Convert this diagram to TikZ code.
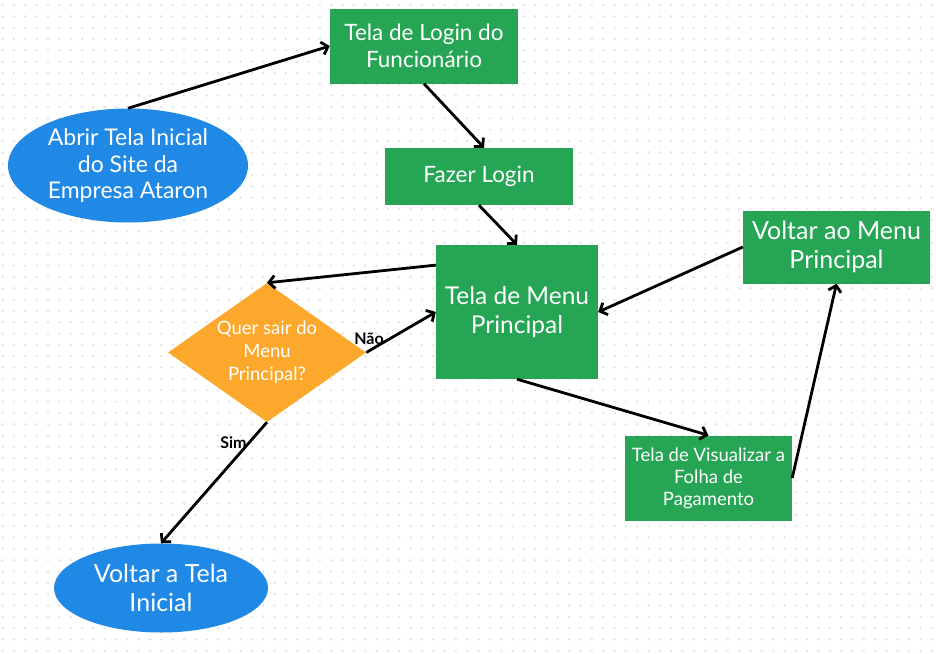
\documentclass[tikz,border=0pt]{standalone}
\usepackage{fontspec}
\setmainfont{Lato}
\usetikzlibrary{shapes.geometric,arrows.meta}
\definecolor{telagreen}{RGB}{38,166,84}
\definecolor{startblue}{RGB}{32,136,229}
\definecolor{askorange}{RGB}{252,168,44}
\definecolor{dotgray}{RGB}{224,225,232}

\begin{document}
\begin{tikzpicture}[x=1pt, y=-1pt,
    tela/.style={rectangle, fill=telagreen, text=white, align=center, inner sep=0pt},
    oval/.style={ellipse, fill=startblue, text=white, align=center, inner sep=0pt},
    ask/.style={diamond, aspect=1.42, fill=askorange, text=white, align=center, inner sep=0pt},
    arr/.style={-{Straight Barb[length=6pt,width=13pt]}, line width=2.8pt, black},
    lbl/.style={font=\fontsize{16}{18}\selectfont\bfseries, text=black, inner sep=1pt}]
    \useasboundingbox (0, 0) rectangle (936, 653);

    % Dotted background
    \foreach \i in {0,...,82}
      \foreach \j in {0,...,57}
        \fill [dotgray] (2.7 + 11.33*\i, 5 + 11.33*\j) circle (1.3);

    % Nodes
    \node [oval, minimum width=240, minimum height=114,
      font=\fontsize{23}{26.5}\selectfont] (abrir) at (128, 165.5)
      {Abrir Tela Inicial\\do Site da\\Empresa Ataron};
    \node [tela, minimum width=188, minimum height=75,
      font=\fontsize{22.5}{27}\selectfont] (login) at (424, 46)
      {Tela de Login do\\Funcionário};
    \node [tela, minimum width=188, minimum height=57,
      font=\fontsize{22.5}{27}\selectfont] (fazer) at (479, 176.5) {Fazer Login};
    \node [tela, minimum width=162, minimum height=134,
      font=\fontsize{24.5}{29}\selectfont] (menu) at (517, 312)
      {Tela de Menu\\Principal};
    \node [ask, minimum width=198, minimum height=139,
      font=\fontsize{18.5}{23}\selectfont] (sair) at (267, 352.5)
      {Quer sair do\\Menu\\Principal?};
    \node [oval, minimum width=214, minimum height=89,
      font=\fontsize{25}{29}\selectfont] (inicial) at (161, 588)
      {Voltar a Tela\\Inicial};
    \node [tela, minimum width=187, minimum height=73,
      font=\fontsize{25}{29}\selectfont] (voltar) at (836.5, 247)
      {Voltar ao Menu\\Principal};
    \node [tela, minimum width=167, minimum height=85,
      font=\fontsize{18.5}{22}\selectfont] (folha) at (708.5, 478)
      {Tela de Visualizar a\\Folha de\\Pagamento};

    % Connectors
    \draw [arr] (abrir.north) -- (login.west);
    \draw [arr] (login.south) -- (fazer.80);
    \draw [arr] (fazer.south) -- (menu.north);
    \draw [arr] (menu.150) -- (sair.north);
    \draw [arr] (sair.east) -- node [lbl, above=4pt, pos=0.04] (nao) {Não} (menu.west);
    \draw [arr] (sair.south) -- node [lbl, left, pos=0.17] (sim) {Sim} (inicial.north);
    \draw [arr] (menu.south) -- (folha.north);
    \draw [arr] (folha.east) -- (voltar.south);
    \draw [arr] (voltar.west) -- (menu.east);
  \end{tikzpicture}
\end{document}
